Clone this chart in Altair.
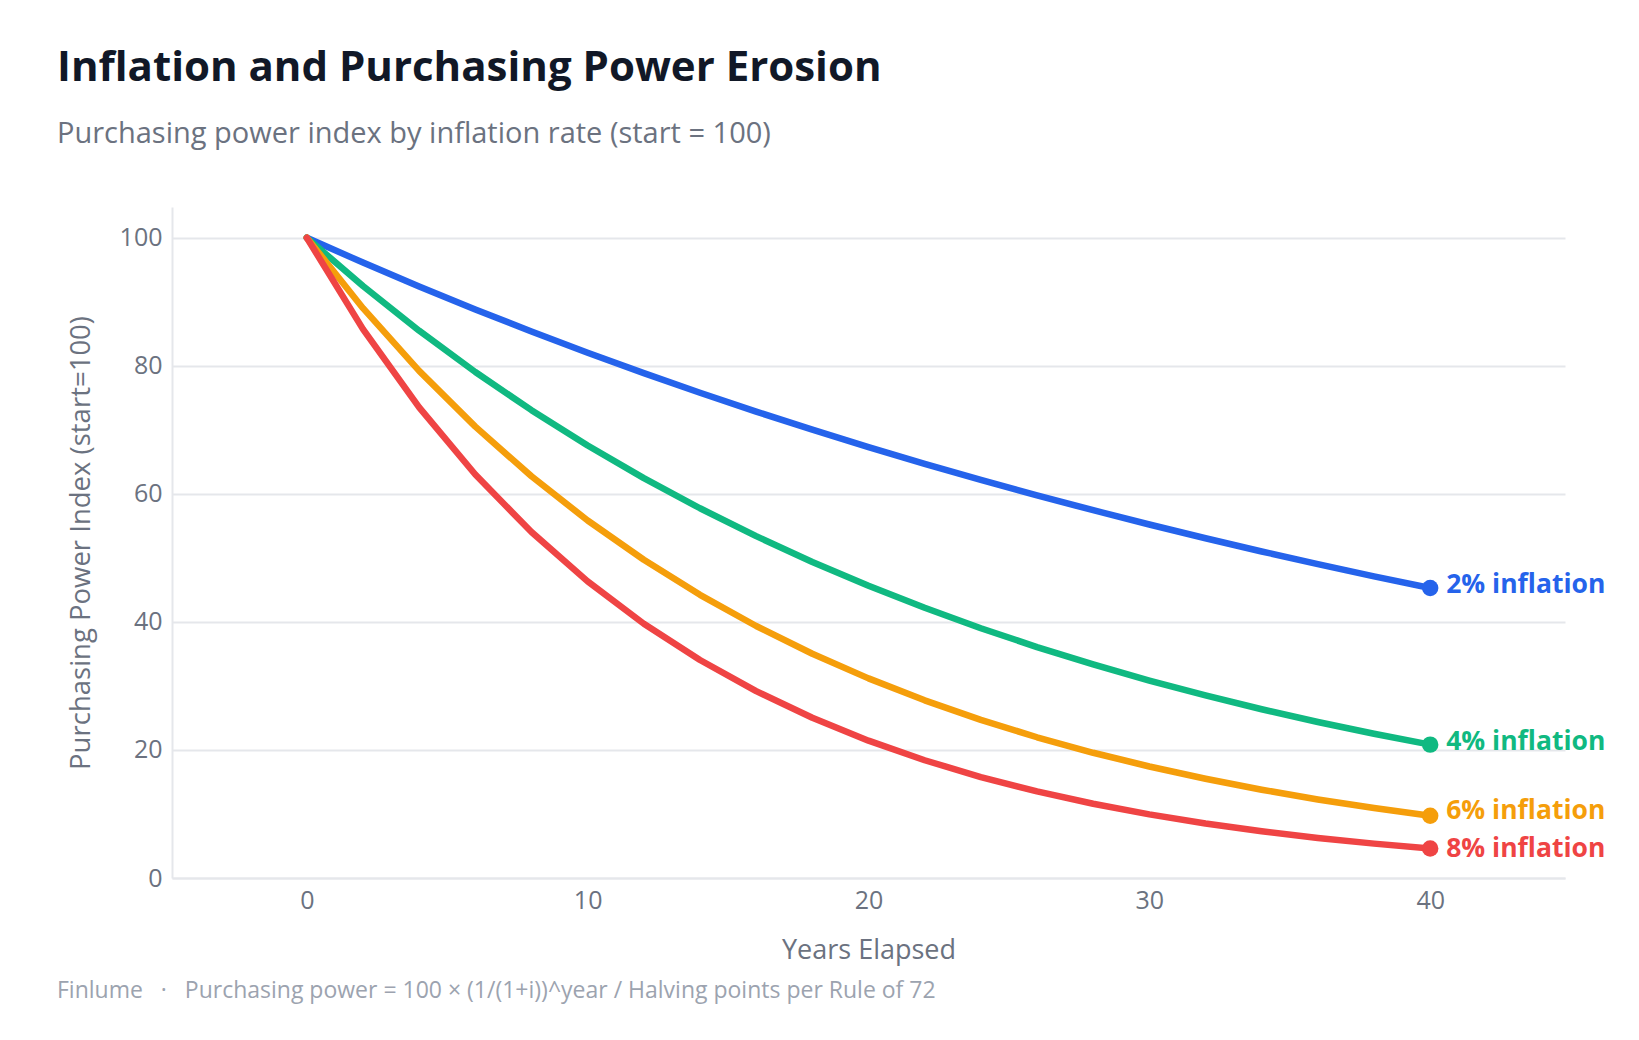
import altair as alt
import pandas as pd

years = [0, 2, 4, 6, 8, 10, 12, 14, 16, 18, 20, 22, 24, 26, 28, 30, 32, 34, 36, 38, 40]
pp_2 = [100, 96.12, 92.38, 88.80, 85.35, 82.03, 78.85, 75.79, 72.84, 70.02, 67.30,
        64.68, 62.17, 59.76, 57.44, 55.21, 53.06, 51.00, 49.02, 47.12, 45.29]
pp_4 = [100, 92.46, 85.48, 79.03, 73.07, 67.56, 62.46, 57.75, 53.39, 49.36, 45.64,
        42.20, 39.01, 36.07, 33.35, 30.83, 28.51, 26.36, 24.37, 22.53, 20.83]
pp_6 = [100, 89.00, 79.21, 70.50, 62.74, 55.84, 49.70, 44.23, 39.36, 35.03, 31.18,
        27.75, 24.70, 21.98, 19.56, 17.41, 15.50, 13.79, 12.27, 10.92, 9.72]
pp_8 = [100, 85.73, 73.50, 63.02, 54.03, 46.32, 39.71, 34.05, 29.19, 25.02, 21.45,
        18.39, 15.77, 13.52, 11.59, 9.94, 8.52, 7.30, 6.26, 5.37, 4.60]

series_names = ["2% inflation", "4% inflation", "6% inflation", "8% inflation"]
series_values = [pp_2, pp_4, pp_6, pp_8]
series_colors = ["#2563eb", "#10b981", "#f59e0b", "#ef4444"]

title_text = "Inflation and Purchasing Power Erosion"
subtitle_text = "Purchasing power index by inflation rate (start = 100)"
footer_text = ("Finlume\u00a0\u00a0\u00a0\u00b7\u00a0\u00a0\u00a0Purchasing power = 100 \u00d7 "
               "(1/(1+i))^year / Halving points per Rule of 72")
x_title = "Years Elapsed"
y_title = "Purchasing Power Index (start=100)"
x_ticks = [0, 10, 20, 30, 40]
y_ticks = [0, 20, 40, 60, 80, 100]

FONT = "Open Sans"

rows = []
for name, vals in zip(series_names, series_values):
    for yr, v in zip(years, vals):
        rows.append({"year": yr, "value": v, "series": name})
df = pd.DataFrame(rows)
end_df = df[df["year"] == years[-1]].copy()

color_scale = alt.Scale(domain=series_names, range=series_colors)

x_enc = alt.X("year:Q", scale=alt.Scale(domain=[-4.8, 44.8], nice=False, zero=False),
              axis=alt.Axis(values=x_ticks, title=x_title, grid=False, ticks=False,
                            labelFontSize=25, labelColor="#6b7280", labelPadding=10,
                            titleFontSize=27, titleColor="#6b7280", titleFontWeight="normal",
                            titlePadding=24, domainColor="#e5e7eb", domainWidth=2,
                            labelFont=FONT, titleFont=FONT))
y_enc = alt.Y("value:Q", scale=alt.Scale(domain=[0, 104.8], nice=False),
              axis=alt.Axis(values=y_ticks, title=y_title, grid=True, ticks=False,
                            gridColor="#e5e7eb", gridWidth=2,
                            labelFontSize=25, labelColor="#6b7280", labelPadding=10,
                            titleFontSize=27.5, titleColor="#6b7280", titleFontWeight="normal",
                            titlePadding=24, domainColor="#e5e7eb", domainWidth=2,
                            labelFont=FONT, titleFont=FONT))

base = alt.Chart(df)
lines = base.mark_line(strokeWidth=6.5, strokeCap="round", strokeJoin="round").encode(
    x=x_enc, y=y_enc,
    color=alt.Color("series:N", scale=color_scale, legend=None),
    order=alt.Order("year:Q"),
)
points = alt.Chart(end_df).mark_circle(size=270, opacity=1).encode(
    x="year:Q", y="value:Q",
    color=alt.Color("series:N", scale=color_scale, legend=None),
)


def label_layer(names, dy):
    sub = end_df[end_df["series"].isin(names)]
    return alt.Chart(sub).mark_text(align="left", baseline="middle", dx=16, dy=dy,
                                    fontSize=26.5, fontWeight="bold", font=FONT).encode(
        x="year:Q", y="value:Q", text="series:N",
        color=alt.Color("series:N", scale=color_scale, legend=None),
    )


labels_a = label_layer(["2% inflation", "4% inflation"], -3)
labels_b = label_layer(["6% inflation"], -5)
labels_c = label_layer(["8% inflation"], 0)

txt_df = pd.DataFrame({"k": [0]})
title = alt.Chart(txt_df).mark_text(align="left", baseline="alphabetic", fontSize=42,
                                    fontWeight="bold", color="#111827", font=FONT).encode(
    x=alt.value(-115), y=alt.value(-126), text=alt.value(title_text))
subtitle = alt.Chart(txt_df).mark_text(align="left", baseline="alphabetic", fontSize=29,
                                       color="#6b7280", font=FONT).encode(
    x=alt.value(-115), y=alt.value(-64), text=alt.value(subtitle_text))
footer = alt.Chart(txt_df).mark_text(align="left", baseline="alphabetic", fontSize=23,
                                     color="#9ca3af", font=FONT).encode(
    x=alt.value(-115), y=alt.value(791), text=alt.value(footer_text))

chart = alt.layer(lines, points, labels_a, labels_b, labels_c, title, subtitle, footer).properties(
    width=1393, height=671,
    autosize=alt.AutoSizeParams(type="none"),
    padding={"left": 172, "top": 207, "right": 74, "bottom": 162},
    background="white",
).configure_view(stroke=None)

chart.save("out.html", embed_options={"renderer": "svg", "actions": False})
